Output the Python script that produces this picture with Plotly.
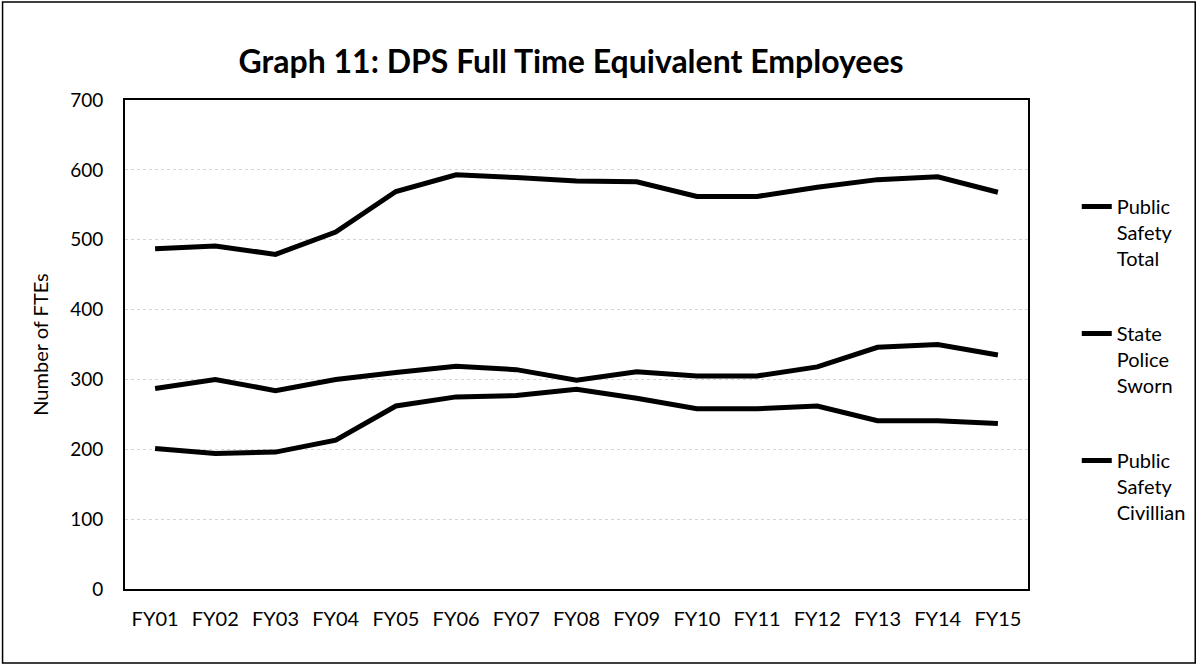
import plotly.graph_objects as go

years = ["FY01", "FY02", "FY03", "FY04", "FY05", "FY06", "FY07", "FY08",
         "FY09", "FY10", "FY11", "FY12", "FY13", "FY14", "FY15"]
total = [487, 491, 479, 511, 569, 593, 589, 584, 583, 562, 562, 575, 586, 590, 568]
sworn = [287, 300, 284, 300, 310, 319, 314, 299, 311, 305, 305, 318, 346, 350, 335]
civilian = [201, 194, 196, 213, 262, 275, 277, 286, 273, 258, 258, 262, 241, 241, 237]
series_names = ["Public<br>Safety<br>Total", "State<br>Police<br>Sworn", "Public<br>Safety<br>Civillian"]
title_text = "Graph 11: DPS Full Time Equivalent Employees"

FONT = "Lato, 'Open Sans', sans-serif"

fig = go.Figure()
for i, (name, vals) in enumerate(zip(series_names, [total, sworn, civilian])):
    fig.add_trace(go.Scatter(
        x=years, y=vals, name=name, mode="lines",
        line=dict(color="black", width=5),
        legendgroup=f"g{i}",
    ))

fig.update_layout(
    width=1203, height=666,
    paper_bgcolor="white", plot_bgcolor="white",
    margin=dict(l=125, r=171, t=100, b=77),
    font=dict(family=FONT, size=19, color="black"),
    title=dict(text=f"<b>{title_text}</b>", x=0.4747, xanchor="center",
               y=0.907, yanchor="middle", font=dict(size=32, family=FONT)),
    showlegend=True,
    legend=dict(x=1.054, xanchor="left", y=0.822, yanchor="top",
                valign="top", tracegroupgap=46,
                font=dict(size=20, family=FONT),
                bgcolor="rgba(0,0,0,0)"),
    xaxis=dict(type="category", range=[-0.5, len(years) - 0.5], showgrid=False,
               showline=True, linecolor="black", linewidth=1.5, mirror=True,
               ticks="", ticklabelstandoff=11, tickfont=dict(size=20)),
    yaxis=dict(range=[0, 700], dtick=100, showgrid=True, gridcolor="#d4d4d4",
               griddash="dot", gridwidth=1, showline=True, linecolor="black",
               linewidth=2, mirror=True, ticks="", zeroline=False,
               ticklabelstandoff=16,
               title=dict(text="Number of FTEs", font=dict(size=20), standoff=16),
               tickfont=dict(size=19)),
    shapes=[dict(type="rect", xref="paper", yref="paper",
                 x0=-0.1356, x1=1.1852, y0=-0.1513, y1=1.2004,
                 line=dict(color="black", width=1.5))],
)

fig.write_html("out.html", config={"displayModeBar": False},
               post_script="document.body.style.margin='0px';")
